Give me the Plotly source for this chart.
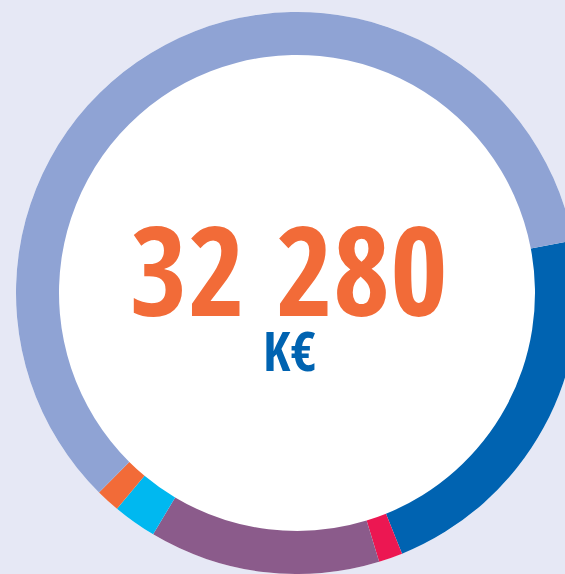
import plotly.graph_objects as go

# Data (K€), clockwise starting from the dark-blue slice
categories = ["Bleu", "Rouge", "Violet", "Cyan", "Orange", "Lavande"]
values = [7070, 444, 4286, 811, 444, 19225]
colors = ["#0063B1", "#EC1752", "#8B5B8B", "#00B8F0", "#F26B38", "#8FA3D4"]
total_label = "32 280"
unit_label = "K€"

W, H = 600, 574
FONT = "Open Sans Condensed"

fig = go.Figure()
# white disc behind the ring (fills the hole)
fig.add_trace(go.Pie(
    labels=["centre"], values=[1], sort=False,
    marker=dict(colors=["#FFFFFF"], line=dict(width=0)),
    textinfo="none", hoverinfo="skip", showlegend=False,
))
fig.add_trace(go.Pie(
    labels=categories,
    values=values,
    sort=False,
    direction="clockwise",
    rotation=79.2,
    hole=0.847,
    marker=dict(colors=colors, line=dict(width=0)),
    textinfo="none",
    hoverinfo="label+value",
    showlegend=False,
))

fig.add_annotation(text=total_label, xref="paper", yref="paper", x=0.4858, y=0.5446,
                   showarrow=False, xanchor="center", yanchor="middle",
                   font=dict(family=FONT, size=124, color="#F26B38", weight=800))
fig.add_annotation(text=unit_label, xref="paper", yref="paper", x=0.4858, y=0.3983,
                   showarrow=False, xanchor="center", yanchor="middle",
                   font=dict(family=FONT, size=54, color="#0063B1", weight=800))

fig.update_layout(
    width=W, height=H,
    margin=dict(l=16, r=W - 578, t=12, b=0),
    paper_bgcolor="#E6E8F5",
    plot_bgcolor="#E6E8F5",
)

fig.write_html("out.html", config={"displayModeBar": False},
               post_script="document.body.style.margin='0';document.body.style.overflow='hidden';document.documentElement.style.overflow='hidden';document.body.style.background='#E6E8F5';")
